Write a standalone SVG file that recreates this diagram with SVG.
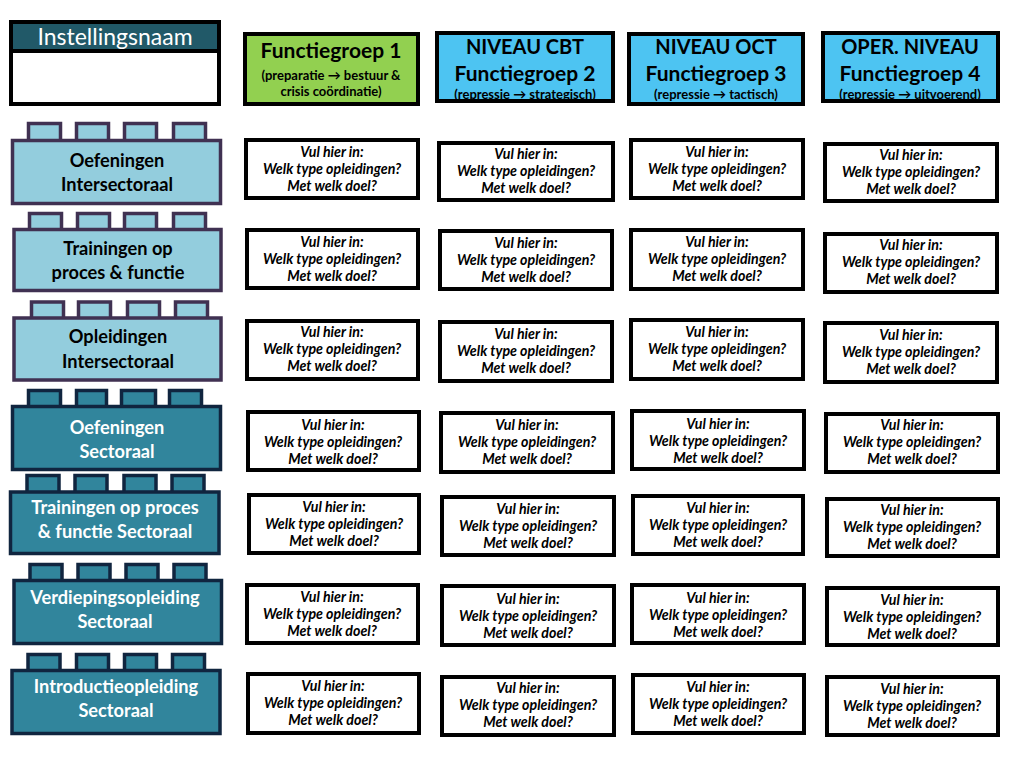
<svg xmlns="http://www.w3.org/2000/svg" width="1018" height="764" viewBox="0 0 1018 764">
<style>
.cell{fill:#fff;stroke:#000;stroke-width:4}
.ct{font-family:Lato,"Open Sans",sans-serif;font-weight:bold;font-style:italic;font-size:14.2px;fill:#000;text-anchor:middle}
.hdr{stroke:#000;stroke-width:4}
.green{fill:#92D050}
.blue{fill:#4DC4F2}
.ht{font-family:Lato,"Open Sans",sans-serif;font-weight:bold;font-size:20px;fill:#000;text-anchor:middle}
.fg{font-size:21px}
.hs{font-family:Lato,"Open Sans",sans-serif;font-weight:bold;font-size:13px;fill:#000;text-anchor:middle}
.lightb{fill:#93CDDD;stroke:#403152;stroke-width:3.5}
.darkb{fill:#31859C;stroke:#10253F;stroke-width:3.5}
.lt{font-family:Lato,"Open Sans",sans-serif;font-weight:bold;font-size:18.2px;text-anchor:middle}
.ltl{fill:#000}
.ltd{fill:#fff}
</style>
<rect width="1018" height="764" fill="#fff"/>
<g id="instellingsnaam">
<rect x="11" y="22" width="208" height="82" fill="#fff" stroke="#000" stroke-width="4"/>
<rect x="11" y="22" width="208" height="29" fill="#215968" stroke="#000" stroke-width="4"/>
<text x="115" y="45" font-family="Lato,'Open Sans',sans-serif" font-size="23" fill="#fff" text-anchor="middle">Instellingsnaam</text>
</g>
<g id="fg1">
<rect class="hdr green" x="245" y="34" width="173" height="70"/>
<text class="ht fg" x="331" y="58">Functiegroep 1</text>
<text class="hs" x="331" y="80">(preparatie → bestuur &amp;</text>
<text class="hs" x="331" y="96">crisis coördinatie)</text>
</g>
<g id="fg2">
<rect class="hdr blue" x="437" y="33" width="176" height="68"/>
<text class="ht" x="525" y="54">NIVEAU CBT</text>
<text class="ht fg" x="525" y="81">Functiegroep 2</text>
<text class="hs" x="525" y="98.5">(repressie → strategisch)</text>
</g>
<g id="fg3">
<rect class="hdr blue" x="629" y="34" width="174" height="70"/>
<text class="ht" x="716" y="54">NIVEAU OCT</text>
<text class="ht fg" x="716" y="81">Functiegroep 3</text>
<text class="hs" x="716" y="99">(repressie → tactisch)</text>
</g>
<g id="fg4">
<rect class="hdr blue" x="823" y="33" width="175" height="68"/>
<text class="ht" x="910" y="54">OPER. NIVEAU</text>
<text class="ht fg" x="910" y="81">Functiegroep 4</text>
<text class="hs" x="910" y="98.5">(repressie → uitvoerend)</text>
</g>
<g id="block1">
<rect class="lightb" x="28.5" y="123.5" width="32" height="20"/>
<rect class="lightb" x="76.5" y="123.5" width="32" height="20"/>
<rect class="lightb" x="124.5" y="123.5" width="32" height="20"/>
<rect class="lightb" x="173.5" y="123.5" width="32" height="20"/>
<rect class="lightb" x="12.5" y="140.5" width="208" height="63"/>
<text class="lt ltl" x="117" y="167">Oefeningen</text>
<text class="lt ltl" x="117" y="191">Intersectoraal</text>
</g>
<g id="block2">
<rect class="lightb" x="29.5" y="213.5" width="32" height="20"/>
<rect class="lightb" x="77.5" y="213.5" width="32" height="20"/>
<rect class="lightb" x="124.5" y="213.5" width="32" height="20"/>
<rect class="lightb" x="173.5" y="213.5" width="32" height="20"/>
<rect class="lightb" x="14" y="229.5" width="207" height="61"/>
<text class="lt ltl" x="118" y="255">Trainingen op</text>
<text class="lt ltl" x="118" y="279">proces &amp; functie</text>
</g>
<g id="block3">
<rect class="lightb" x="31.5" y="302" width="32" height="20"/>
<rect class="lightb" x="78.5" y="302" width="32" height="20"/>
<rect class="lightb" x="127.5" y="302" width="32" height="20"/>
<rect class="lightb" x="175.5" y="302" width="32" height="20"/>
<rect class="lightb" x="14" y="318" width="207" height="62"/>
<text class="lt ltl" x="118" y="343">Opleidingen</text>
<text class="lt ltl" x="118" y="368">Intersectoraal</text>
</g>
<g id="block4">
<rect class="darkb" x="28.5" y="390.5" width="32" height="20"/>
<rect class="darkb" x="76.5" y="390.5" width="30" height="20"/>
<rect class="darkb" x="121.5" y="390.5" width="34" height="20"/>
<rect class="darkb" x="169.5" y="390.5" width="32" height="20"/>
<rect class="darkb" x="12.5" y="406.5" width="208" height="63"/>
<text class="lt ltd" x="117" y="434">Oefeningen</text>
<text class="lt ltd" x="117" y="458">Sectoraal</text>
</g>
<g id="block5">
<rect class="darkb" x="27" y="475.5" width="32" height="20"/>
<rect class="darkb" x="75" y="475.5" width="32" height="20"/>
<rect class="darkb" x="124" y="475.5" width="32" height="20"/>
<rect class="darkb" x="172" y="475.5" width="32" height="20"/>
<rect class="darkb" x="10.5" y="492" width="208.5" height="61.5"/>
<text class="lt ltd" x="115" y="514">Trainingen op proces</text>
<text class="lt ltd" x="115" y="538">&amp; functie Sectoraal</text>
</g>
<g id="block6">
<rect class="darkb" x="30" y="564.5" width="32" height="20"/>
<rect class="darkb" x="78" y="564.5" width="32" height="20"/>
<rect class="darkb" x="126" y="564.5" width="32" height="20"/>
<rect class="darkb" x="174" y="564.5" width="32" height="20"/>
<rect class="darkb" x="14" y="580.5" width="207.5" height="63"/>
<text class="lt ltd" x="115" y="604">Verdiepingsopleiding</text>
<text class="lt ltd" x="115" y="628">Sectoraal</text>
</g>
<g id="block7">
<rect class="darkb" x="28" y="654.5" width="32" height="20"/>
<rect class="darkb" x="76.5" y="654.5" width="32" height="20"/>
<rect class="darkb" x="124.5" y="654.5" width="32" height="20"/>
<rect class="darkb" x="172.5" y="654.5" width="32" height="20"/>
<rect class="darkb" x="12" y="670.5" width="208" height="63"/>
<text class="lt ltd" x="116" y="693">Introductieopleiding</text>
<text class="lt ltd" x="116" y="717">Sectoraal</text>
</g>
<g id="cells">
<g id="r1c1"><rect class="cell" x="246" y="140" width="172" height="58"/><text class="ct"><tspan x="332" y="157">Vul hier in:</tspan><tspan x="332" y="174">Welk type opleidingen?</tspan><tspan x="332" y="191">Met welk doel?</tspan></text></g>
<g id="r1c2"><rect class="cell" x="439" y="143" width="174" height="57"/><text class="ct"><tspan x="526" y="159">Vul hier in:</tspan><tspan x="526" y="176">Welk type opleidingen?</tspan><tspan x="526" y="193">Met welk doel?</tspan></text></g>
<g id="r1c3"><rect class="cell" x="631" y="140" width="172" height="58"/><text class="ct"><tspan x="717" y="157">Vul hier in:</tspan><tspan x="717" y="174">Welk type opleidingen?</tspan><tspan x="717" y="191">Met welk doel?</tspan></text></g>
<g id="r1c4"><rect class="cell" x="825" y="144" width="172" height="57"/><text class="ct"><tspan x="911" y="160">Vul hier in:</tspan><tspan x="911" y="177">Welk type opleidingen?</tspan><tspan x="911" y="194">Met welk doel?</tspan></text></g>

<g id="r2c1"><rect class="cell" x="247" y="230" width="171" height="58"/><text class="ct"><tspan x="332" y="247">Vul hier in:</tspan><tspan x="332" y="264">Welk type opleidingen?</tspan><tspan x="332" y="281">Met welk doel?</tspan></text></g>
<g id="r2c2"><rect class="cell" x="440" y="231" width="172" height="58"/><text class="ct"><tspan x="526" y="248">Vul hier in:</tspan><tspan x="526" y="265">Welk type opleidingen?</tspan><tspan x="526" y="282">Met welk doel?</tspan></text></g>
<g id="r2c3"><rect class="cell" x="631" y="230" width="172" height="59"/><text class="ct"><tspan x="717" y="247">Vul hier in:</tspan><tspan x="717" y="264">Welk type opleidingen?</tspan><tspan x="717" y="281">Met welk doel?</tspan></text></g>
<g id="r2c4"><rect class="cell" x="825" y="234" width="172" height="58"/><text class="ct"><tspan x="911" y="250">Vul hier in:</tspan><tspan x="911" y="267">Welk type opleidingen?</tspan><tspan x="911" y="284">Met welk doel?</tspan></text></g>

<g id="r3c1"><rect class="cell" x="247" y="321" width="171" height="58"/><text class="ct"><tspan x="332" y="337">Vul hier in:</tspan><tspan x="332" y="354">Welk type opleidingen?</tspan><tspan x="332" y="371">Met welk doel?</tspan></text></g>
<g id="r3c2"><rect class="cell" x="440" y="322" width="172" height="59"/><text class="ct"><tspan x="526" y="339">Vul hier in:</tspan><tspan x="526" y="356">Welk type opleidingen?</tspan><tspan x="526" y="373">Met welk doel?</tspan></text></g>
<g id="r3c3"><rect class="cell" x="631" y="320" width="172" height="59"/><text class="ct"><tspan x="717" y="337">Vul hier in:</tspan><tspan x="717" y="354">Welk type opleidingen?</tspan><tspan x="717" y="371">Met welk doel?</tspan></text></g>
<g id="r3c4"><rect class="cell" x="825" y="323" width="172" height="59"/><text class="ct"><tspan x="911" y="340">Vul hier in:</tspan><tspan x="911" y="357">Welk type opleidingen?</tspan><tspan x="911" y="374">Met welk doel?</tspan></text></g>

<g id="r4c1"><rect class="cell" x="248" y="412" width="171" height="58"/><text class="ct"><tspan x="333" y="430">Vul hier in:</tspan><tspan x="333" y="447">Welk type opleidingen?</tspan><tspan x="333" y="464">Met welk doel?</tspan></text></g>
<g id="r4c2"><rect class="cell" x="441" y="413" width="172" height="59"/><text class="ct"><tspan x="527" y="430">Vul hier in:</tspan><tspan x="527" y="447">Welk type opleidingen?</tspan><tspan x="527" y="464">Met welk doel?</tspan></text></g>
<g id="r4c3"><rect class="cell" x="632" y="411" width="172" height="58"/><text class="ct"><tspan x="718" y="429">Vul hier in:</tspan><tspan x="718" y="446">Welk type opleidingen?</tspan><tspan x="718" y="463">Met welk doel?</tspan></text></g>
<g id="r4c4"><rect class="cell" x="826" y="414" width="172" height="58"/><text class="ct"><tspan x="912" y="430">Vul hier in:</tspan><tspan x="912" y="447">Welk type opleidingen?</tspan><tspan x="912" y="464">Met welk doel?</tspan></text></g>

<g id="r5c1"><rect class="cell" x="249" y="495" width="170" height="58"/><text class="ct"><tspan x="334" y="512">Vul hier in:</tspan><tspan x="334" y="529">Welk type opleidingen?</tspan><tspan x="334" y="546">Met welk doel?</tspan></text></g>
<g id="r5c2"><rect class="cell" x="442" y="497" width="172" height="58"/><text class="ct"><tspan x="528" y="514">Vul hier in:</tspan><tspan x="528" y="531">Welk type opleidingen?</tspan><tspan x="528" y="548">Met welk doel?</tspan></text></g>
<g id="r5c3"><rect class="cell" x="633" y="496" width="170" height="58"/><text class="ct"><tspan x="718" y="513">Vul hier in:</tspan><tspan x="718" y="530">Welk type opleidingen?</tspan><tspan x="718" y="547">Met welk doel?</tspan></text></g>
<g id="r5c4"><rect class="cell" x="827" y="499" width="171" height="57"/><text class="ct"><tspan x="912" y="515">Vul hier in:</tspan><tspan x="912" y="532">Welk type opleidingen?</tspan><tspan x="912" y="549">Met welk doel?</tspan></text></g>

<g id="r6c1"><rect class="cell" x="247" y="585" width="171" height="58"/><text class="ct"><tspan x="332" y="602">Vul hier in:</tspan><tspan x="332" y="619">Welk type opleidingen?</tspan><tspan x="332" y="636">Met welk doel?</tspan></text></g>
<g id="r6c2"><rect class="cell" x="442" y="586" width="172" height="59"/><text class="ct"><tspan x="528" y="604">Vul hier in:</tspan><tspan x="528" y="621">Welk type opleidingen?</tspan><tspan x="528" y="638">Met welk doel?</tspan></text></g>
<g id="r6c3"><rect class="cell" x="632" y="585" width="172" height="58"/><text class="ct"><tspan x="718" y="603">Vul hier in:</tspan><tspan x="718" y="620">Welk type opleidingen?</tspan><tspan x="718" y="637">Met welk doel?</tspan></text></g>
<g id="r6c4"><rect class="cell" x="827" y="588" width="171" height="57"/><text class="ct"><tspan x="912" y="605">Vul hier in:</tspan><tspan x="912" y="622">Welk type opleidingen?</tspan><tspan x="912" y="639">Met welk doel?</tspan></text></g>

<g id="r7c1"><rect class="cell" x="248" y="674" width="171" height="59"/><text class="ct"><tspan x="333" y="691">Vul hier in:</tspan><tspan x="333" y="708">Welk type opleidingen?</tspan><tspan x="333" y="725">Met welk doel?</tspan></text></g>
<g id="r7c2"><rect class="cell" x="442" y="677" width="172" height="58"/><text class="ct"><tspan x="528" y="693">Vul hier in:</tspan><tspan x="528" y="710">Welk type opleidingen?</tspan><tspan x="528" y="727">Met welk doel?</tspan></text></g>
<g id="r7c3"><rect class="cell" x="633" y="675" width="171" height="58"/><text class="ct"><tspan x="718" y="692">Vul hier in:</tspan><tspan x="718" y="709">Welk type opleidingen?</tspan><tspan x="718" y="726">Met welk doel?</tspan></text></g>
<g id="r7c4"><rect class="cell" x="827" y="677" width="171" height="58"/><text class="ct"><tspan x="912" y="694">Vul hier in:</tspan><tspan x="912" y="711">Welk type opleidingen?</tspan><tspan x="912" y="728">Met welk doel?</tspan></text></g>
</g>
</svg>
